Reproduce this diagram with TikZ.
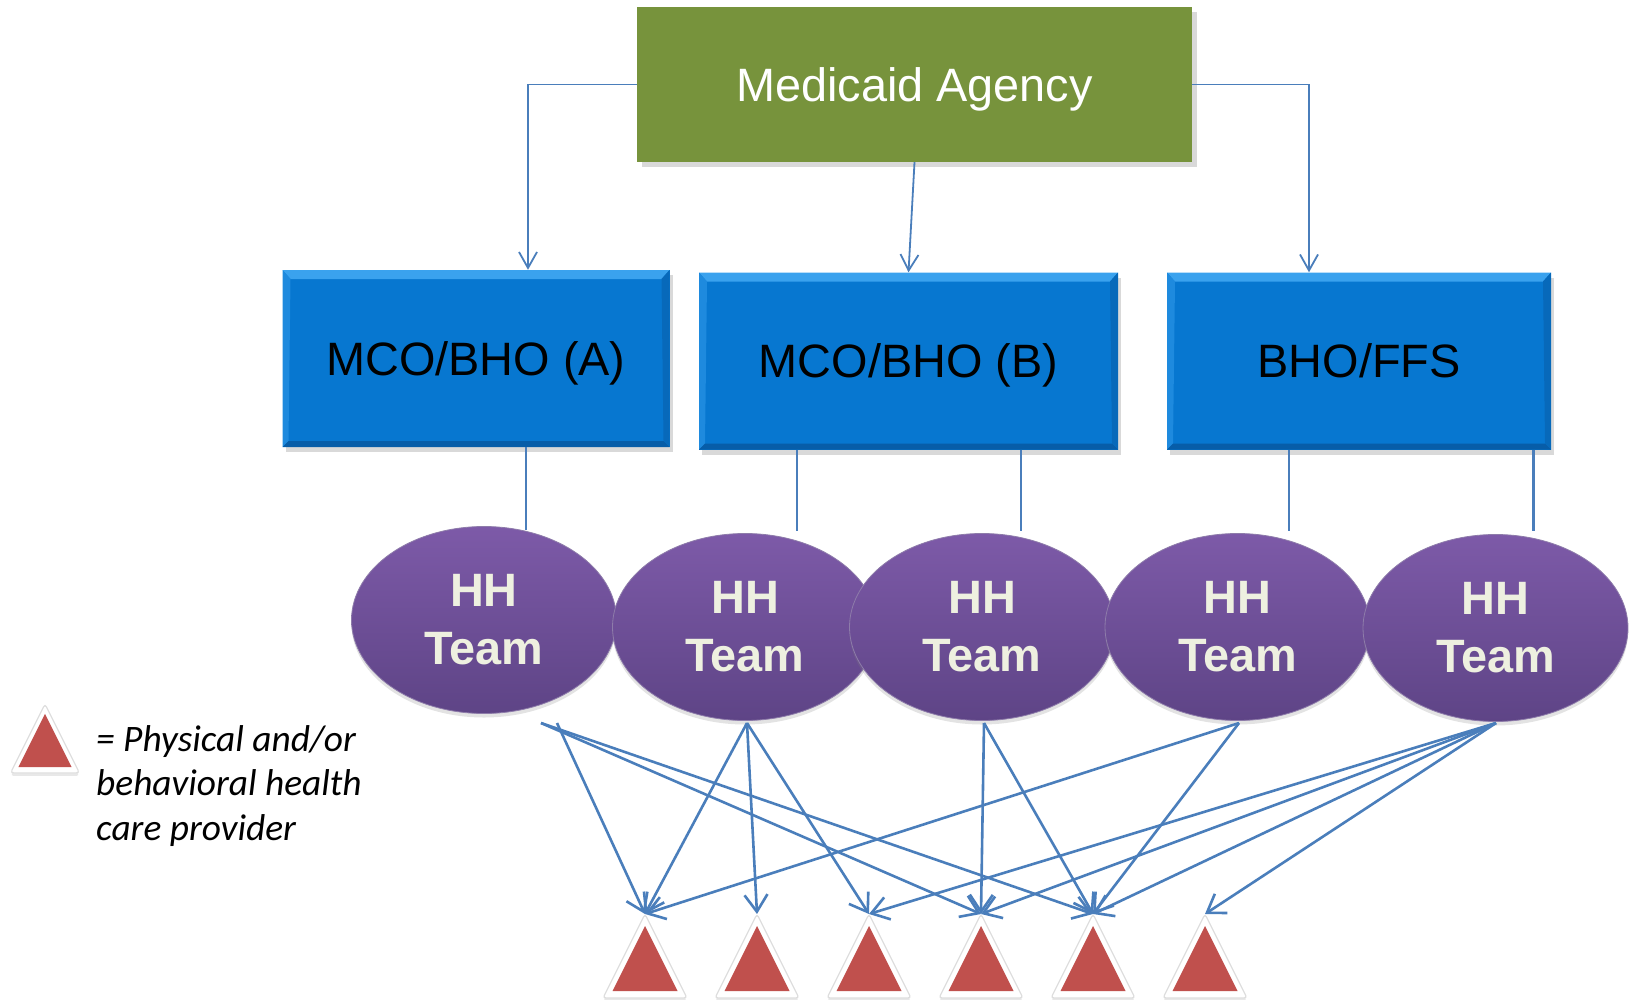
\documentclass[tikz,border=0pt]{standalone}
\usepackage{fontspec}
\setmainfont{Liberation Sans}
\newfontfamily\legendfont{Carlito}
\usetikzlibrary{arrows.meta,shapes.geometric,shadows}
\definecolor{connblue}{HTML}{4A7EBB}
\definecolor{agencygreen}{HTML}{77933C}
\definecolor{boxblue}{HTML}{0777D0}
\definecolor{bevellight}{HTML}{3AA2EE}
\definecolor{beveldark}{HTML}{075DA8}
\definecolor{purpletop}{HTML}{7D5AA8}
\definecolor{purplebot}{HTML}{5E4486}
\definecolor{teamtext}{HTML}{EEF0E0}
\definecolor{provred}{HTML}{C0504D}
\begin{document}
\begin{tikzpicture}[x=1bp,y=-1bp,
  agency/.style={rectangle, fill=agencygreen, minimum width=555bp, minimum height=155bp, inner sep=0pt,
    text=white, text depth=0pt, font=\fontsize{47}{56}\selectfont,
    drop shadow={shadow xshift=5bp, shadow yshift=-5bp, opacity=0.3}},
  orgbox/.style={rectangle, fill=boxblue, minimum height=177bp, inner sep=0pt,
    text=black, text depth=0pt, font=\fontsize{47}{56}\selectfont,
    drop shadow={shadow xshift=3bp, shadow yshift=-5bp, opacity=0.3},
    path picture={
      \coordinate (pnw) at (path picture bounding box.north west);
      \coordinate (pne) at (path picture bounding box.north east);
      \coordinate (psw) at (path picture bounding box.south west);
      \coordinate (pse) at (path picture bounding box.south east);
      \fill[bevellight] (pnw) -- (pne) -- ([shift={(-8bp,-9bp)}]pne) -- ([shift={(8bp,-9bp)}]pnw) -- cycle;
      \fill[bevellight!45!boxblue] (pnw) -- ([shift={(8bp,-9bp)}]pnw) -- ([shift={(6bp,6bp)}]psw) -- (psw) -- cycle;
      \fill[beveldark] (psw) -- (pse) -- ([shift={(-6bp,6bp)}]pse) -- ([shift={(6bp,6bp)}]psw) -- cycle;
      \fill[beveldark!55!boxblue] (pne) -- ([shift={(-8bp,-9bp)}]pne) -- ([shift={(-6bp,6bp)}]pse) -- (pse) -- cycle;
    }},
  team/.style={ellipse, minimum width=265bp, minimum height=187bp, inner sep=0pt,
    top color=purpletop, bottom color=purplebot, draw=purplebot!70!white, line width=0.8bp,
    text=teamtext, align=center, font=\fontsize{47}{58}\selectfont\bfseries,
    drop shadow={shadow xshift=0bp, shadow yshift=-4bp, opacity=0.22}},
  legendtext/.style={align=left, inner sep=0pt, font=\legendfont\itshape\fontsize{37.5}{44.5}\selectfont},
  topconn/.style={draw=connblue, line width=1.8bp, -{Straight Barb[length=16bp,width=18bp]}},
  dropline/.style={draw=connblue, line width=2.2bp},
  conn/.style={draw=connblue, line width=2.6bp, -{Straight Barb[length=17bp,width=23bp]}},
  provider/.pic={
    \fill[white, draw=black!13, line width=1.2bp, rounded corners=3bp,
      drop shadow={shadow xshift=0bp, shadow yshift=-3bp, opacity=0.18}]
      (0,0) -- (42,84) -- (-42,84) -- cycle;
    \fill[provred] (0,12) -- (32.5,77) -- (-32.5,77) -- cycle;
  }]
\useasboundingbox (0,0) rectangle (1629,999);

% top agency
\node[agency] (g) at (914.5,84.5) {Medicaid Agency};

% organisation boxes
\node[orgbox, minimum width=387bp] (a) at (476,358.5) {MCO/BHO (A)};
\node[orgbox, minimum width=419bp] (b) at (908.5,361) {MCO/BHO (B)};
\node[orgbox, minimum width=384bp] (c) at (1359,361) {BHO/FFS};

% connectors agency -> boxes
\draw[topconn] (g.west) -| ([xshift=52bp]a.north);
\draw[topconn] (g.south) -- (b.north);
\draw[topconn] (g.east) -| ([xshift=-50bp]c.north);

% drop lines boxes -> teams
\draw[dropline] ([xshift=50bp]a.south) -- ++(0,83);
\draw[dropline] ([xshift=-111.5bp]b.south) -- ++(0,81);
\draw[dropline] ([xshift=112.5bp]b.south) -- ++(0,81);
\draw[dropline] ([xshift=-70bp]c.south) -- ++(0,81);
\draw[dropline] ([xshift=174.5bp]c.south) -- ++(0,81);

% HH teams
\node[team] (e1) at (484,620) {HH\\Team};
\node[team] (e2) at (745,627) {HH\\Team};
\node[team] (e3) at (982,627) {HH\\Team};
\node[team] (e4) at (1237.5,627) {HH\\Team};
\node[team] (e5) at (1495.5,628) {HH\\Team};

% providers
\coordinate (t1) at (645,914);
\coordinate (t2) at (757,914);
\coordinate (t3) at (869,914);
\coordinate (t4) at (981,914);
\coordinate (t5) at (1093,914);
\coordinate (t6) at (1205,914);
\foreach \t in {t1,t2,t3,t4,t5,t6}{ \pic at (\t) {provider}; }

% arrow start points
\coordinate (s1a) at (541,723);
\coordinate (s1b) at (557,723);
\coordinate (s2) at (747,723);
\coordinate (s3) at (984,723);
\coordinate (s4) at (1239,723);
\coordinate (s5) at (1496,723);

\draw[conn] (s1b) -- (t1);
\draw[conn] (s1a) -- (t4);
\draw[conn] (s1a) -- (t5);
\draw[conn] (s2) -- (t1);
\draw[conn] (s2) -- (t2);
\draw[conn] (s2) -- (t3);
\draw[conn] (s3) -- (t4);
\draw[conn] (s3) -- (t5);
\draw[conn] (s4) -- (t1);
\draw[conn] (s4) -- (t5);
\draw[conn] (s5) -- (t3);
\draw[conn] (s5) -- (t4);
\draw[conn] (s5) -- (t5);
\draw[conn] (s5) -- (t6);

% legend
\pic[scale=0.82] at (45,704) {provider};
\node[legendtext, anchor=west] (leg) at (96,786) {= Physical and/or\\behavioral health\\care provider};
\end{tikzpicture}
\end{document}
